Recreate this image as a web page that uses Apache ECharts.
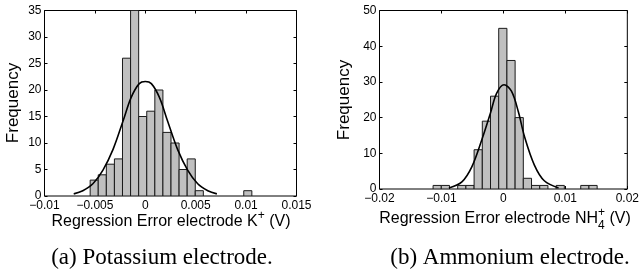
<!DOCTYPE html>
<html>
<head>
<meta charset="utf-8">
<script src="https://cdn.jsdelivr.net/npm/echarts@6/dist/echarts.min.js"></script>
<style>
html,body{margin:0;padding:0;background:#fff;}
#c{width:642px;height:275px;}
</style>
</head>
<body>
<div id="c"></div>
<script>
// ---- Data ----
// Potassium electrode histogram: bin centers (V) and counts
const kBinCenters = [-0.005069,-0.004267,-0.003465,-0.002663,-0.001861,-0.001059,-0.000257,0.000545,0.001347,0.002149,
                     0.002951,0.003753,0.004555,0.005357,0.006159,0.006961,0.007763,0.008565,0.009367,0.010169];
const kBinWidth = 0.000802;
const kCounts = [3,4,6,7,26,35,15,16,20,12,10,5,7,1,0,0,0,0,0,1];
// Fitted curve
const kCurveX = [-0.0071,-0.0062,-0.0052,-0.0042,-0.0032,-0.0022,-0.0014,-0.0006,0.0,0.0006,0.0014,0.0022,0.0032,0.0042,0.0052,0.0062,0.0071];
const kCurveY = [0.4,1.0,2.3,4.9,8.8,14.2,18.6,21.2,21.6,21.2,18.6,14.2,8.8,4.9,2.3,1.0,0.4];

// Ammonium electrode histogram
const nBinCenters = [-0.010688,-0.009364,-0.008040,-0.006716,-0.005392,-0.004068,-0.002744,-0.001420,-0.000096,0.001228,
                     0.002552,0.003876,0.005200,0.006524,0.007848,0.009172,0.010496,0.011820,0.013144,0.014468];
const nBinWidth = 0.001324;
const nCounts = [1,1,0,1,1,11,19,26,45,36,20,3,1,1,0,1,0,0,1,1];
const nCurveX = [-0.0088,-0.0067,-0.0051,-0.0035,-0.0021,-0.0011,0.0001,0.0013,0.0024,0.0034,0.0050,0.0066,0.0089];
const nCurveY = [0.3,2.0,6.2,13.7,21.2,26.8,29.2,27.4,21.7,14.7,6.7,2.3,0.3];

// Axis ticks
const kXTicks = {min:-0.01, max:0.015, interval:0.005};
const kYTicks = {min:0, max:35, interval:5};
const nXTicks = {min:-0.02, max:0.02, interval:0.01};
const nYTicks = {min:0, max:50, interval:10};

// ---- Chart ----
const FONT = '"Liberation Sans", Arial, Helvetica, sans-serif';
const SERIF = '"Liberation Serif", "Times New Roman", Times, serif';
const chart = echarts.init(document.getElementById('c'), null, {renderer:'canvas'});
const mctx = document.createElement('canvas').getContext('2d');
function tw(s, size, fam){ mctx.font = size + 'px ' + (fam||FONT); return mctx.measureText(s).width; }

function fmt(v){ let s = String(+(+v).toFixed(4)); return s.replace('-', '\u2212'); }

function xAx(grid, t, pos){
  return {gridIndex:grid, type:'value', position:pos, min:t.min, max:t.max, interval:t.interval,
    axisLine:{show:false, onZero:false}, splitLine:{show:false},
    axisTick:{show:true, inside:true, length:3, lineStyle:{color:'#000', width:1}},
    axisLabel:{show:pos==='bottom', fontSize:12, color:'#000', fontFamily:FONT, margin:4, formatter:fmt, showMinLabel:true, showMaxLabel:true}};
}
function yAx(grid, t, pos){
  return {gridIndex:grid, type:'value', position:pos, min:t.min, max:t.max, interval:t.interval,
    axisLine:{show:false, onZero:false}, splitLine:{show:false},
    axisTick:{show:true, inside:true, length:3, lineStyle:{color:'#000', width:1}},
    axisLabel:{show:pos==='left', fontSize:12, color:'#000', fontFamily:FONT, margin:3, formatter:fmt, showMinLabel:true, showMaxLabel:true}};
}

function barSeries(xi, yi, centers, counts, w){
  return {type:'custom', xAxisIndex:xi, yAxisIndex:yi, clip:true, z:2,
    data: centers.map((c,i)=>[c, counts[i], w]),
    encode:{x:0, y:1},
    renderItem:(params, api)=>{
      const c = api.value(0), n = api.value(1), ww = api.value(2);
      if (!n) return null;
      const p0 = api.coord([c - ww/2, n]);
      const p1 = api.coord([c + ww/2, 0]);
      return {type:'rect', shape:{x:p0[0], y:p0[1], width:p1[0]-p0[0], height:p1[1]-p0[1]},
        style:{fill:'#c0c0c0', stroke:'#1a1a1a', lineWidth:1}};
    }};
}
function curveSeries(xi, yi, xs, ys){
  return {type:'line', xAxisIndex:xi, yAxisIndex:yi, smooth:0.35, showSymbol:false, z:5, silent:true,
    data: xs.map((x,i)=>[x, ys[i]]), lineStyle:{color:'#000', width:1.6}};
}

function titleEls(main, sup, sub, tail, cx, cy, size){
  const ss = Math.round(size*0.72);
  const w1 = tw(main, size), w2 = Math.max(tw(sup, ss), sub ? tw(sub, ss) : 0), w3 = tw(tail, size);
  const x0 = cx - (w1 + w2 + w3)/2;
  const base = {fill:'#000', align:'left', verticalAlign:'middle', textAlign:'left', textVerticalAlign:'middle'};
  const els = [
    {type:'text', x:x0, y:cy, style:Object.assign({text:main, font:size+'px '+FONT}, base)},
    {type:'text', x:x0+w1, y:cy - size*0.42, style:Object.assign({text:sup, font:ss+'px '+FONT}, base)},
    {type:'text', x:x0+w1+w2, y:cy, style:Object.assign({text:tail, font:size+'px '+FONT}, base)}
  ];
  if (sub) els.push({type:'text', x:x0+w1, y:cy + size*0.42, style:Object.assign({text:sub, font:ss+'px '+FONT}, base)});
  return els;
}
function centered(text, cx, cy, font, rot){
  return {type:'text', x:cx, y:cy, rotation:rot||0,
    style:{text:text, font:font, fill:'#000', align:'center', verticalAlign:'middle', textAlign:'center', textVerticalAlign:'middle'}};
}

const g0 = {left:44.5, top:10.5, width:252, height:185.5};
const g1 = {left:379.5, top:10.5, width:251.5, height:178.5};

const option = {
  animation:false,
  backgroundColor:'#fff',
  grid:[
    Object.assign({show:true, borderColor:'#000', borderWidth:1, backgroundColor:'transparent', containLabel:false}, g0),
    Object.assign({show:true, borderColor:'#000', borderWidth:1, backgroundColor:'transparent', containLabel:false}, g1)
  ],
  xAxis:[xAx(0,kXTicks,'bottom'), xAx(0,kXTicks,'top'), xAx(1,nXTicks,'bottom'), xAx(1,nXTicks,'top')],
  yAxis:[yAx(0,kYTicks,'left'), yAx(0,kYTicks,'right'), yAx(1,nYTicks,'left'), yAx(1,nYTicks,'right')],
  series:[
    barSeries(0,0,kBinCenters,kCounts,kBinWidth),
    curveSeries(0,0,kCurveX,kCurveY),
    barSeries(2,2,nBinCenters,nCounts,nBinWidth),
    curveSeries(2,2,nCurveX,nCurveY)
  ],
  graphic:[].concat(
    titleEls('Regression Error electrode K', '+', null, ' (V)', 171, 222, 16),
    titleEls('Regression Error electrode NH', '+', '4', ' (V)', 505, 219, 16),
    [
      centered('Frequency', 13, 103, '17px '+FONT, Math.PI/2),
      centered('Frequency', 344, 100, '17px '+FONT, Math.PI/2),
      centered('(a) Potassium electrode.', 162, 258, '23px '+SERIF),
      centered('(b) Ammonium electrode.', 510, 258, '23px '+SERIF)
    ]
  )
};
chart.setOption(option);
</script>
</body>
</html>
